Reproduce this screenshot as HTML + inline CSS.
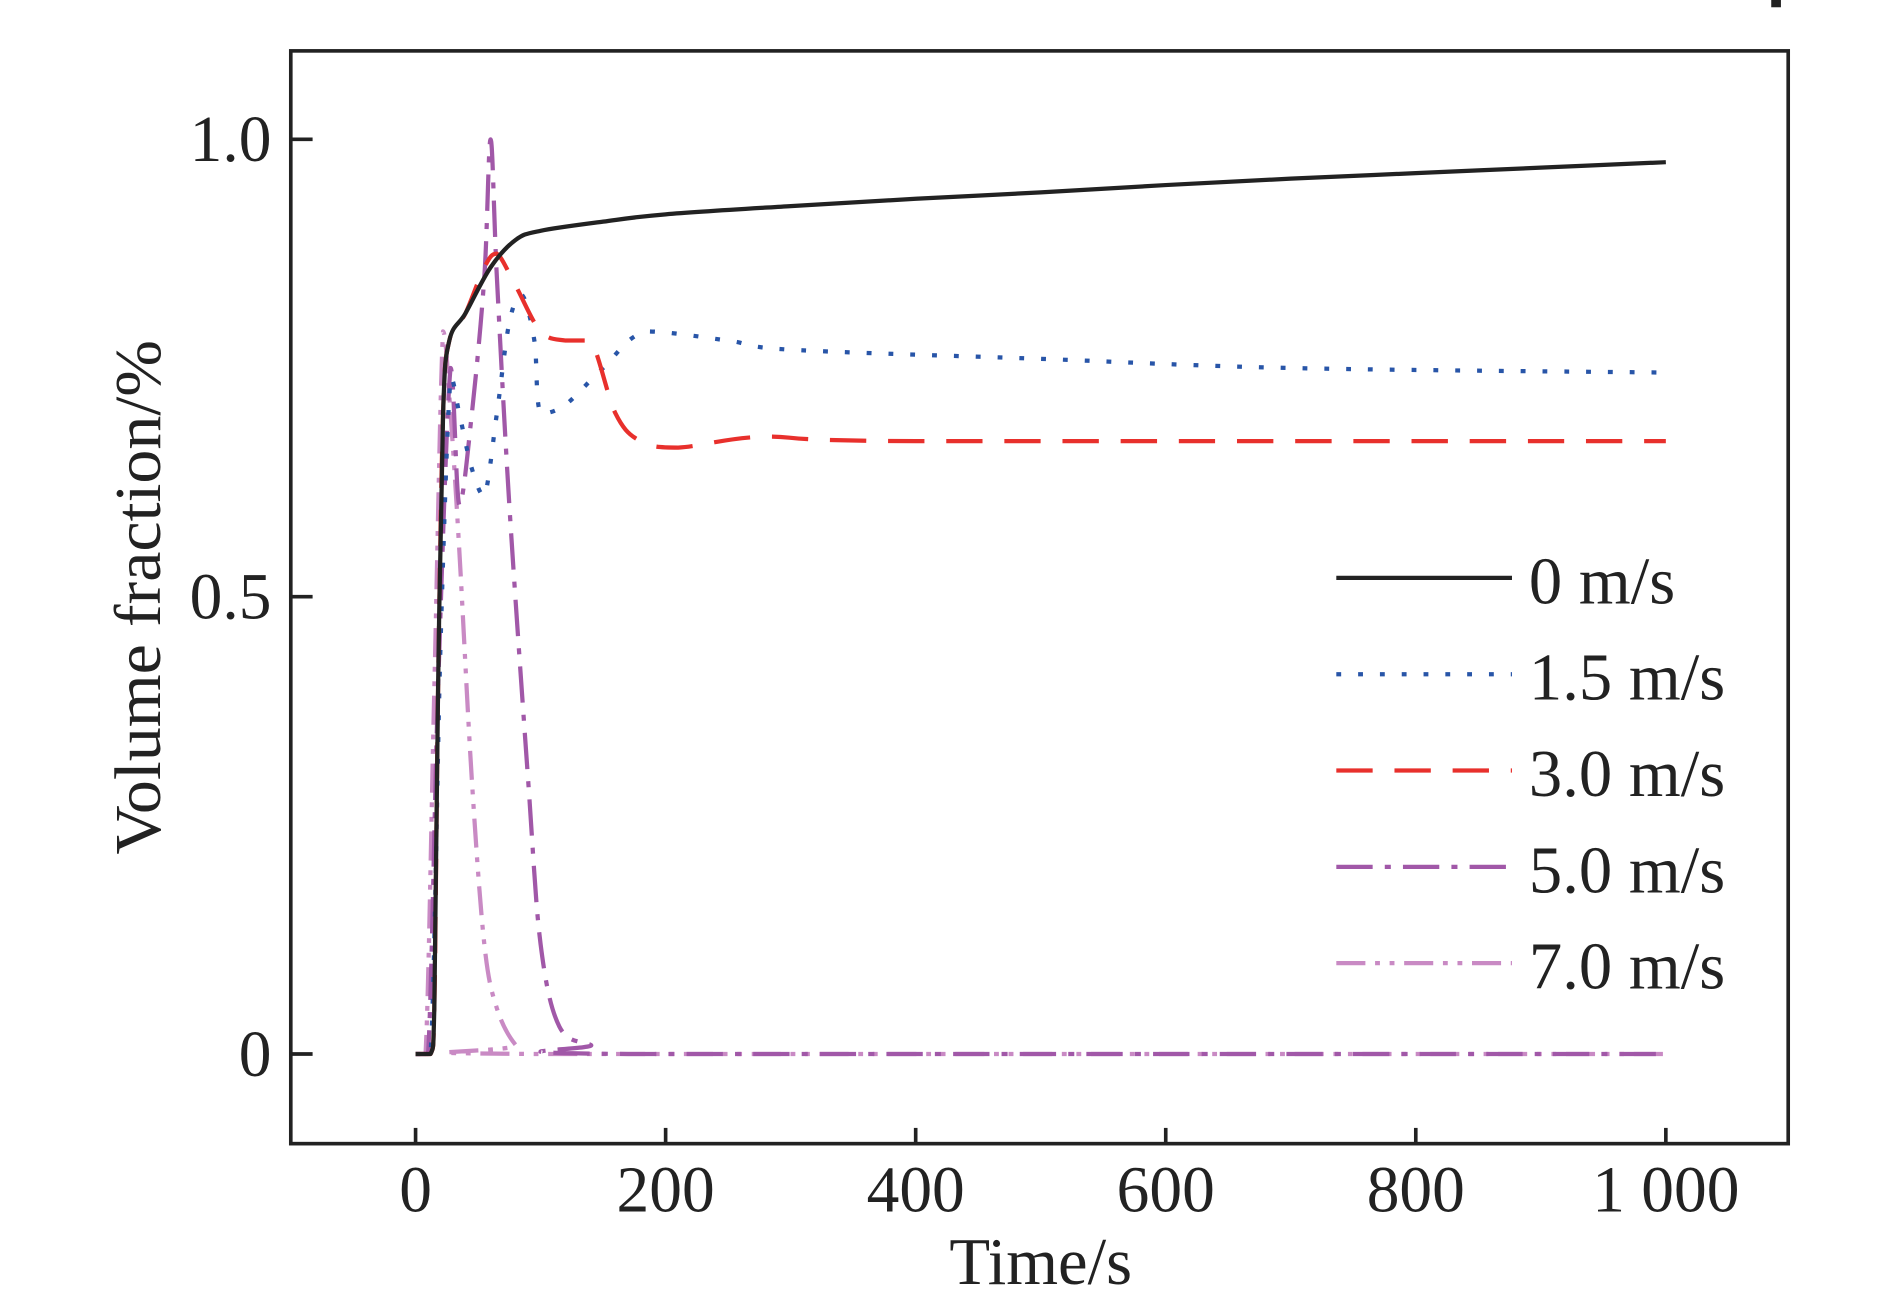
<!DOCTYPE html>
<html><head><meta charset="utf-8"><style>
html,body{margin:0;padding:0;background:#fff;}
svg text{font-family:"Liberation Serif",serif;fill:#222;}
</style></head><body>
<svg id="chart" width="1890" height="1298" viewBox="0 0 1560 1071.4" xmlns="http://www.w3.org/2000/svg">
<rect x="0" y="0" width="1560" height="1071.4" fill="#fff"/>
<rect x="240" y="42" width="1236" height="902" fill="none" stroke="#222" stroke-width="3"/>
<rect x="1462" y="0" width="8" height="6" fill="#222"/>
<g id="ticks"></g>
<g id="series"></g>
<text x="859" y="1060" font-size="55" text-anchor="middle">Time/s</text>
<text x="0" y="0" font-size="54" text-anchor="middle" transform="translate(132,493) rotate(-90) scale(1.04,1)">Volume fraction/%</text>
<g id="legend"></g>
</svg>
<script>
const xTicks=[0,200,400,600,800,1000];
const xTickLabels=["0","200","400","600","800","1 000"];
const yTicks=[0,0.5,1.0];
const yTickLabels=["0","0.5","1.0"];
const seriesNames=["0 m/s","1.5 m/s","3.0 m/s","5.0 m/s","7.0 m/s"];
const t0=[0,12,15,18,22,27,40,60,80,100,150,200,300,400,500,600,700,800,900,1000];
const v0=[0,0,0.05,0.4,0.7,0.78,0.81,0.86,0.89,0.9,0.91,0.918,0.927,0.935,0.942,0.95,0.957,0.963,0.969,0.975];
const t1=[0,12,20,28,35,45,55,65,75,85,95,100,120,150,185,250,300,500,700,1000];
const v1=[0,0,0.45,0.74,0.70,0.64,0.61,0.70,0.80,0.83,0.78,0.70,0.71,0.75,0.79,0.78,0.77,0.76,0.75,0.745];
const t2=[0,12,15,18,22,27,40,55,65,80,100,120,140,160,180,210,280,400,1000];
const v2=[0,0,0.05,0.4,0.7,0.78,0.81,0.86,0.875,0.84,0.79,0.78,0.78,0.70,0.67,0.663,0.675,0.67,0.67];
const t3=[0,10,18,28,35,45,55,60,65,75,90,100,115,140,170,1000];
const v3=[0,0,0.4,0.75,0.6,0.7,0.85,1.0,0.85,0.6,0.3,0.12,0.03,0.01,0,0];
const t4=[0,8,15,22,28,35,45,55,65,80,95,1000];
const v4=[0,0,0.4,0.79,0.7,0.55,0.3,0.12,0.05,0.01,0,0];
const colors=["#222","#2855a8","#e8302c","#a158a8","#c98ac4"];
const dashes=["none","4 14","30 18","30 10 5 10","24 8 4 8 4 8"];
const X=v=>343+(1375-343)*v/1000;
const Y=v=>870-(870-115)*v;
const NS="http://www.w3.org/2000/svg";
const mk=(tag,attrs,parent)=>{const e=document.createElementNS(NS,tag);for(const k in attrs)e.setAttribute(k,attrs[k]);parent.appendChild(e);return e;};
const tk=document.getElementById('ticks');
xTicks.forEach((v,i)=>{
  const l=mk('line',{x1:X(v),x2:X(v),y1:944,y2:931,stroke:'#222','stroke-width':3},tk);
  
  
  const t=mk('text',{x:X(v),y:1000,'font-size':54,'text-anchor':'middle'},tk);
  t.textContent=xTickLabels[i];
  
  
});
yTicks.forEach((v,i)=>{
  const l=mk('line',{x1:240,x2:258,y1:Y(v),y2:Y(v),stroke:'#222','stroke-width':3},tk);
  
  
  const t=mk('text',{x:224,y:Y(v)+18,'font-size':54,'text-anchor':'end'},tk);
  t.textContent=yTickLabels[i];
  
  
});
const sg=document.getElementById('series');
const all=[[t0,v0],[t1,v1],[t2,v2],[t3,v3],[t4,v4]];
const order=[4,3,1,2,0];
const clamp=(v,a,b)=>Math.max(Math.min(a,b),Math.min(Math.max(a,b),v));
order.forEach(i=>{
  const [ts,vs]=all[i];
  const pts=ts.map((t,j)=>[X(t),Y(vs[j])]);
  let d='M'+pts[0][0]+','+pts[0][1];
  for(let j=1;j<pts.length;j++){
    const p0=pts[Math.max(j-2,0)],p1=pts[j-1],p2=pts[j],p3=pts[Math.min(j+1,pts.length-1)];
    const c1=[p1[0]+(p2[0]-p0[0])/6,clamp(p1[1]+(p2[1]-p0[1])/6,p1[1],p2[1])];
    const c2=[p2[0]-(p3[0]-p1[0])/6,clamp(p2[1]-(p3[1]-p1[1])/6,p1[1],p2[1])];
    d+=` C${c1[0]},${c1[1]} ${c2[0]},${c2[1]} ${p2[0]},${p2[1]}`;
  }
  const p=mk('path',{d:d,fill:'none',stroke:colors[i],'stroke-width':3.5,'stroke-dasharray':dashes[i],'stroke-linejoin':'round'},sg);
  
  
});
const lg=document.getElementById('legend');
seriesNames.forEach((n,i)=>{
  const y=477+i*79.5;
  const g=mk('g',{},lg);
  
  
  mk('line',{x1:1103,x2:1248,y1:y,y2:y,stroke:colors[i],'stroke-width':3.5,'stroke-dasharray':dashes[i]},g);
  const t=mk('text',{x:1262,y:y+21,'font-size':55},g);
  t.textContent=n;
});
</script>
</body></html>
